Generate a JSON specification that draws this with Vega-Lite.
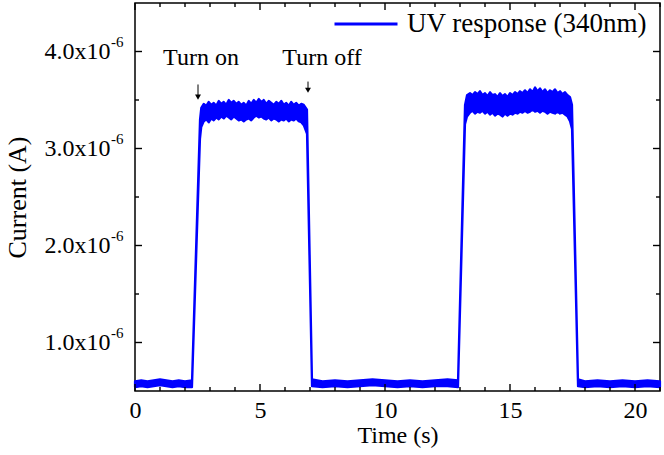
{
  "$schema": "https://vega.github.io/schema/vega-lite/v6.json",
  "width": 525,
  "height": 388,
  "autosize": "none",
  "padding": {"left": 135, "top": 3, "right": 4, "bottom": 64},
  "background": "white",
  "config": {
    "view": {"stroke": "black", "strokeWidth": 1.5},
    "font": "Liberation Serif",
    "axis": {"domain": false, "ticks": false, "grid": false, "labelFlush": false, "labelOverlap": false, "labelColor": "black", "labelFont": "Liberation Serif", "labelFontSize": 24, "titleFont": "Liberation Serif", "titleFontSize": 24, "titleFontWeight": "normal", "titleColor": "black"},
    "legend": {"labelFont": "Liberation Serif", "labelFontSize": 27, "labelColor": "black", "labelLimit": 400}
  },
  "datasets": {
    "signal": [
      {"t": 0.0, "lo": 0.54e-6, "hi": 0.60e-6},
      {"t": 0.25, "lo": 0.55e-6, "hi": 0.61e-6},
      {"t": 0.5, "lo": 0.54e-6, "hi": 0.60e-6},
      {"t": 0.75, "lo": 0.55e-6, "hi": 0.61e-6},
      {"t": 1.0, "lo": 0.56e-6, "hi": 0.62e-6},
      {"t": 1.25, "lo": 0.55e-6, "hi": 0.61e-6},
      {"t": 1.5, "lo": 0.54e-6, "hi": 0.60e-6},
      {"t": 1.75, "lo": 0.55e-6, "hi": 0.61e-6},
      {"t": 2.0, "lo": 0.54e-6, "hi": 0.60e-6},
      {"t": 2.28, "lo": 0.54e-6, "hi": 0.61e-6},
      {"t": 2.6, "lo": 3.10e-6, "hi": 3.30e-6},
      {"t": 2.65, "lo": 3.22e-6, "hi": 3.42e-6},
      {"t": 2.75, "lo": 3.28e-6, "hi": 3.46e-6},
      {"t": 2.85, "lo": 3.30e-6, "hi": 3.44e-6},
      {"t": 2.95, "lo": 3.27e-6, "hi": 3.48e-6},
      {"t": 3.05, "lo": 3.31e-6, "hi": 3.45e-6},
      {"t": 3.15, "lo": 3.29e-6, "hi": 3.47e-6},
      {"t": 3.25, "lo": 3.32e-6, "hi": 3.44e-6},
      {"t": 3.35, "lo": 3.30e-6, "hi": 3.49e-6},
      {"t": 3.45, "lo": 3.33e-6, "hi": 3.46e-6},
      {"t": 3.55, "lo": 3.31e-6, "hi": 3.48e-6},
      {"t": 3.65, "lo": 3.34e-6, "hi": 3.45e-6},
      {"t": 3.75, "lo": 3.32e-6, "hi": 3.50e-6},
      {"t": 3.85, "lo": 3.30e-6, "hi": 3.47e-6},
      {"t": 3.95, "lo": 3.33e-6, "hi": 3.49e-6},
      {"t": 4.05, "lo": 3.31e-6, "hi": 3.46e-6},
      {"t": 4.15, "lo": 3.29e-6, "hi": 3.48e-6},
      {"t": 4.25, "lo": 3.30e-6, "hi": 3.45e-6},
      {"t": 4.35, "lo": 3.28e-6, "hi": 3.47e-6},
      {"t": 4.45, "lo": 3.30e-6, "hi": 3.44e-6},
      {"t": 4.55, "lo": 3.31e-6, "hi": 3.49e-6},
      {"t": 4.65, "lo": 3.29e-6, "hi": 3.46e-6},
      {"t": 4.75, "lo": 3.32e-6, "hi": 3.50e-6},
      {"t": 4.85, "lo": 3.34e-6, "hi": 3.47e-6},
      {"t": 4.95, "lo": 3.32e-6, "hi": 3.51e-6},
      {"t": 5.05, "lo": 3.33e-6, "hi": 3.48e-6},
      {"t": 5.15, "lo": 3.31e-6, "hi": 3.50e-6},
      {"t": 5.25, "lo": 3.30e-6, "hi": 3.46e-6},
      {"t": 5.35, "lo": 3.32e-6, "hi": 3.49e-6},
      {"t": 5.45, "lo": 3.29e-6, "hi": 3.47e-6},
      {"t": 5.55, "lo": 3.31e-6, "hi": 3.45e-6},
      {"t": 5.65, "lo": 3.30e-6, "hi": 3.48e-6},
      {"t": 5.75, "lo": 3.28e-6, "hi": 3.46e-6},
      {"t": 5.85, "lo": 3.30e-6, "hi": 3.49e-6},
      {"t": 5.95, "lo": 3.29e-6, "hi": 3.45e-6},
      {"t": 6.05, "lo": 3.31e-6, "hi": 3.47e-6},
      {"t": 6.15, "lo": 3.28e-6, "hi": 3.44e-6},
      {"t": 6.25, "lo": 3.30e-6, "hi": 3.48e-6},
      {"t": 6.35, "lo": 3.29e-6, "hi": 3.45e-6},
      {"t": 6.45, "lo": 3.31e-6, "hi": 3.47e-6},
      {"t": 6.55, "lo": 3.28e-6, "hi": 3.44e-6},
      {"t": 6.65, "lo": 3.27e-6, "hi": 3.46e-6},
      {"t": 6.75, "lo": 3.24e-6, "hi": 3.45e-6},
      {"t": 6.88, "lo": 3.15e-6, "hi": 3.40e-6},
      {"t": 7.08, "lo": 0.55e-6, "hi": 0.62e-6},
      {"t": 7.5, "lo": 0.54e-6, "hi": 0.60e-6},
      {"t": 8.0, "lo": 0.55e-6, "hi": 0.61e-6},
      {"t": 8.5, "lo": 0.54e-6, "hi": 0.60e-6},
      {"t": 9.0, "lo": 0.55e-6, "hi": 0.61e-6},
      {"t": 9.5, "lo": 0.56e-6, "hi": 0.62e-6},
      {"t": 10.0, "lo": 0.55e-6, "hi": 0.61e-6},
      {"t": 10.5, "lo": 0.54e-6, "hi": 0.60e-6},
      {"t": 11.0, "lo": 0.55e-6, "hi": 0.61e-6},
      {"t": 11.5, "lo": 0.54e-6, "hi": 0.60e-6},
      {"t": 12.0, "lo": 0.55e-6, "hi": 0.61e-6},
      {"t": 12.5, "lo": 0.55e-6, "hi": 0.62e-6},
      {"t": 12.92, "lo": 0.54e-6, "hi": 0.61e-6},
      {"t": 13.2, "lo": 3.25e-6, "hi": 3.45e-6},
      {"t": 13.28, "lo": 3.33e-6, "hi": 3.55e-6},
      {"t": 13.4, "lo": 3.37e-6, "hi": 3.57e-6},
      {"t": 13.5, "lo": 3.39e-6, "hi": 3.55e-6},
      {"t": 13.6, "lo": 3.36e-6, "hi": 3.58e-6},
      {"t": 13.7, "lo": 3.38e-6, "hi": 3.56e-6},
      {"t": 13.8, "lo": 3.37e-6, "hi": 3.59e-6},
      {"t": 13.9, "lo": 3.39e-6, "hi": 3.55e-6},
      {"t": 14.0, "lo": 3.36e-6, "hi": 3.57e-6},
      {"t": 14.1, "lo": 3.38e-6, "hi": 3.54e-6},
      {"t": 14.2, "lo": 3.35e-6, "hi": 3.58e-6},
      {"t": 14.3, "lo": 3.37e-6, "hi": 3.55e-6},
      {"t": 14.4, "lo": 3.34e-6, "hi": 3.56e-6},
      {"t": 14.5, "lo": 3.36e-6, "hi": 3.53e-6},
      {"t": 14.6, "lo": 3.35e-6, "hi": 3.57e-6},
      {"t": 14.7, "lo": 3.33e-6, "hi": 3.54e-6},
      {"t": 14.8, "lo": 3.36e-6, "hi": 3.56e-6},
      {"t": 14.9, "lo": 3.34e-6, "hi": 3.53e-6},
      {"t": 15.0, "lo": 3.36e-6, "hi": 3.57e-6},
      {"t": 15.1, "lo": 3.35e-6, "hi": 3.55e-6},
      {"t": 15.2, "lo": 3.37e-6, "hi": 3.58e-6},
      {"t": 15.3, "lo": 3.36e-6, "hi": 3.56e-6},
      {"t": 15.4, "lo": 3.38e-6, "hi": 3.59e-6},
      {"t": 15.5, "lo": 3.37e-6, "hi": 3.57e-6},
      {"t": 15.6, "lo": 3.39e-6, "hi": 3.60e-6},
      {"t": 15.7, "lo": 3.37e-6, "hi": 3.57e-6},
      {"t": 15.8, "lo": 3.38e-6, "hi": 3.61e-6},
      {"t": 15.9, "lo": 3.40e-6, "hi": 3.58e-6},
      {"t": 16.0, "lo": 3.38e-6, "hi": 3.63e-6},
      {"t": 16.1, "lo": 3.39e-6, "hi": 3.59e-6},
      {"t": 16.2, "lo": 3.37e-6, "hi": 3.62e-6},
      {"t": 16.3, "lo": 3.39e-6, "hi": 3.58e-6},
      {"t": 16.4, "lo": 3.38e-6, "hi": 3.61e-6},
      {"t": 16.5, "lo": 3.36e-6, "hi": 3.57e-6},
      {"t": 16.6, "lo": 3.38e-6, "hi": 3.60e-6},
      {"t": 16.7, "lo": 3.37e-6, "hi": 3.58e-6},
      {"t": 16.8, "lo": 3.36e-6, "hi": 3.61e-6},
      {"t": 16.9, "lo": 3.38e-6, "hi": 3.57e-6},
      {"t": 17.0, "lo": 3.36e-6, "hi": 3.59e-6},
      {"t": 17.1, "lo": 3.37e-6, "hi": 3.56e-6},
      {"t": 17.2, "lo": 3.35e-6, "hi": 3.58e-6},
      {"t": 17.3, "lo": 3.33e-6, "hi": 3.55e-6},
      {"t": 17.4, "lo": 3.28e-6, "hi": 3.53e-6},
      {"t": 17.48, "lo": 3.20e-6, "hi": 3.45e-6},
      {"t": 17.72, "lo": 0.55e-6, "hi": 0.62e-6},
      {"t": 18.0, "lo": 0.54e-6, "hi": 0.60e-6},
      {"t": 18.5, "lo": 0.55e-6, "hi": 0.61e-6},
      {"t": 19.0, "lo": 0.54e-6, "hi": 0.60e-6},
      {"t": 19.5, "lo": 0.55e-6, "hi": 0.61e-6},
      {"t": 20.0, "lo": 0.54e-6, "hi": 0.60e-6},
      {"t": 20.5, "lo": 0.55e-6, "hi": 0.61e-6},
      {"t": 21.0, "lo": 0.54e-6, "hi": 0.60e-6}
    ],
    "notes": [
      {"t": 2.64, "y": 3.856e-6, "label": "Turn on"},
      {"t": 7.48, "y": 3.856e-6, "label": "Turn off"}
    ],
    "arrows": [
      {"t": 2.52, "top": 3.66e-6, "bottom": 3.53e-6},
      {"t": 6.92, "top": 3.69e-6, "bottom": 3.60e-6}
    ],
    "exps": [
      {"t": 0, "y": 1e-6, "e": "-6"},
      {"t": 0, "y": 2e-6, "e": "-6"},
      {"t": 0, "y": 3e-6, "e": "-6"},
      {"t": 0, "y": 4e-6, "e": "-6"}
    ],
    "xmajor": [{"t": 0}, {"t": 5}, {"t": 10}, {"t": 15}, {"t": 20}],
    "xminor": [{"t": 1}, {"t": 2}, {"t": 3}, {"t": 4}, {"t": 6}, {"t": 7}, {"t": 8}, {"t": 9}, {"t": 11}, {"t": 12}, {"t": 13}, {"t": 14}, {"t": 16}, {"t": 17}, {"t": 18}, {"t": 19}, {"t": 21}],
    "ymajor": [{"v": 1e-6}, {"v": 2e-6}, {"v": 3e-6}, {"v": 4e-6}],
    "yminor": [{"v": 1.5e-6}, {"v": 2.5e-6}, {"v": 3.5e-6}]
  },
  "layer": [
    {
      "data": {"name": "signal"},
      "mark": {"type": "area", "stroke": "#0000ff", "strokeWidth": 2.2, "strokeJoin": "round", "fill": "#0000ff"},
      "encoding": {
        "x": {"field": "t", "type": "quantitative", "scale": {"domain": [0, 21], "nice": false, "zero": false},
              "axis": {"orient": "bottom", "values": [0, 5, 10, 15, 20], "labelPadding": 7, "title": "Time (s)", "titlePadding": 1, "format": "d"}},
        "y": {"field": "lo", "type": "quantitative", "scale": {"domain": [0.5e-6, 4.5e-6], "nice": false, "zero": false},
              "axis": {"orient": "left", "values": [1e-6, 2e-6, 3e-6, 4e-6], "labelPadding": 25, "labelExpr": "format(datum.value*1e6, '.1f') + 'x10'", "title": "Current (A)", "titleFontSize": 26, "titlePadding": 14}},
        "y2": {"field": "hi"},
        "color": {"datum": "UV response (340nm)", "type": "nominal", "scale": {"range": ["#0000ff"]},
                  "legend": {"title": null, "orient": "none", "legendX": 198, "legendY": -12, "symbolType": "stroke", "symbolSize": 3969, "symbolStrokeWidth": 3, "symbolStrokeColor": "#0000ff", "labelOffset": 8, "labelLimit": 400, "padding": 0}}
      }
    },
    {
      "data": {"name": "xmajor"},
      "mark": {"type": "tick", "orient": "vertical", "color": "black", "opacity": 1, "size": 7, "thickness": 1.4, "yOffset": -3.5},
      "encoding": {"x": {"field": "t", "type": "quantitative"}, "y": {"datum": 0.5e-6, "type": "quantitative"}}
    },
    {
      "data": {"name": "xmajor"},
      "mark": {"type": "tick", "orient": "vertical", "color": "black", "opacity": 1, "size": 7, "thickness": 1.4, "yOffset": 3.5},
      "encoding": {"x": {"field": "t", "type": "quantitative"}, "y": {"datum": 4.5e-6, "type": "quantitative"}}
    },
    {
      "data": {"name": "xminor"},
      "mark": {"type": "tick", "orient": "vertical", "color": "black", "opacity": 1, "size": 4, "thickness": 1.4, "yOffset": -2},
      "encoding": {"x": {"field": "t", "type": "quantitative"}, "y": {"datum": 0.5e-6, "type": "quantitative"}}
    },
    {
      "data": {"name": "xminor"},
      "mark": {"type": "tick", "orient": "vertical", "color": "black", "opacity": 1, "size": 4, "thickness": 1.4, "yOffset": 2},
      "encoding": {"x": {"field": "t", "type": "quantitative"}, "y": {"datum": 4.5e-6, "type": "quantitative"}}
    },
    {
      "data": {"name": "ymajor"},
      "mark": {"type": "tick", "orient": "horizontal", "color": "black", "opacity": 1, "size": 7, "thickness": 1.4, "xOffset": 3.5},
      "encoding": {"y": {"field": "v", "type": "quantitative"}, "x": {"datum": 0, "type": "quantitative"}}
    },
    {
      "data": {"name": "ymajor"},
      "mark": {"type": "tick", "orient": "horizontal", "color": "black", "opacity": 1, "size": 7, "thickness": 1.4, "xOffset": -3.5},
      "encoding": {"y": {"field": "v", "type": "quantitative"}, "x": {"datum": 21, "type": "quantitative"}}
    },
    {
      "data": {"name": "yminor"},
      "mark": {"type": "tick", "orient": "horizontal", "color": "black", "opacity": 1, "size": 4, "thickness": 1.4, "xOffset": 2},
      "encoding": {"y": {"field": "v", "type": "quantitative"}, "x": {"datum": 0, "type": "quantitative"}}
    },
    {
      "data": {"name": "yminor"},
      "mark": {"type": "tick", "orient": "horizontal", "color": "black", "opacity": 1, "size": 4, "thickness": 1.4, "xOffset": -2},
      "encoding": {"y": {"field": "v", "type": "quantitative"}, "x": {"datum": 21, "type": "quantitative"}}
    },
    {
      "data": {"name": "notes"},
      "mark": {"type": "text", "font": "Liberation Serif", "fontSize": 24, "align": "center", "baseline": "alphabetic", "color": "black"},
      "encoding": {
        "x": {"field": "t", "type": "quantitative"},
        "y": {"field": "y", "type": "quantitative"},
        "text": {"field": "label"}
      }
    },
    {
      "data": {"name": "arrows"},
      "mark": {"type": "rule", "color": "black", "strokeWidth": 1},
      "encoding": {
        "x": {"field": "t", "type": "quantitative"},
        "y": {"field": "top", "type": "quantitative"},
        "y2": {"field": "bottom"}
      }
    },
    {
      "data": {"name": "arrows"},
      "mark": {"type": "point", "shape": "triangle-down", "filled": true, "color": "black", "size": 35, "opacity": 1},
      "encoding": {
        "x": {"field": "t", "type": "quantitative"},
        "y": {"field": "bottom", "type": "quantitative"}
      }
    },
    {
      "data": {"name": "exps"},
      "mark": {"type": "text", "font": "Liberation Serif", "fontSize": 15, "align": "left", "baseline": "middle", "dx": -24, "dy": -10, "color": "black"},
      "encoding": {
        "x": {"field": "t", "type": "quantitative"},
        "y": {"field": "y", "type": "quantitative"},
        "text": {"field": "e"}
      }
    }
  ]
}
